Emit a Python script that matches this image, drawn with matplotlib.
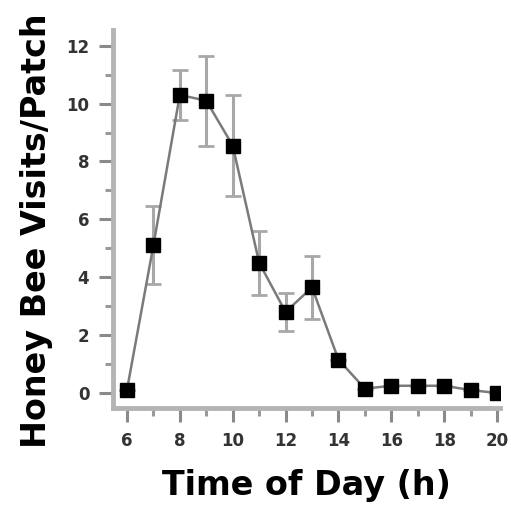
import matplotlib.pyplot as plt
from matplotlib.ticker import MultipleLocator
import numpy as np

# values
hours = [6, 7, 8, 9, 10, 11, 12, 13, 14, 15, 16, 17, 18, 19, 20]
visits = [0.1, 5.1, 10.3, 10.1, 8.55, 4.5, 2.8, 3.65, 1.15, 0.15, 0.25, 0.25, 0.25, 0.1, 0.0]
err = [0.0, 1.35, 0.85, 1.55, 1.75, 1.1, 0.65, 1.1, 0.1, 0.0, 0.0, 0.0, 0.0, 0.0, 0.0]

xticks = [6, 8, 10, 12, 14, 16, 18, 20]
yticks = [0, 2, 4, 6, 8, 10, 12]

plt.rcParams['font.family'] = ['DejaVu Sans']

fig = plt.figure(figsize=(5.11, 5.05), dpi=100)
ax = fig.add_axes([0.221, 0.192, 0.757, 0.749])

ax.errorbar(hours, visits, yerr=[e if e > 0.15 else 0 for e in err],
            fmt='none', ecolor='#a8a8a8', elinewidth=2.2, capsize=6,
            capthick=2, zorder=2)
ax.plot(hours, visits, color='#7a7a7a', lw=1.8, zorder=3)
ax.plot(hours, visits, ls='none', marker='s', ms=9.5, color='black', zorder=4)

ax.set_xlim(5.47, 20.1)
ax.set_ylim(-0.52, 12.55)
ax.set_xticks(xticks)
ax.set_yticks(yticks)
ax.xaxis.set_minor_locator(MultipleLocator(1))
ax.yaxis.set_minor_locator(MultipleLocator(1))

ax.spines[['top', 'right']].set_visible(False)
for s in ['left', 'bottom']:
    ax.spines[s].set_color('#b4b4b4')
    ax.spines[s].set_linewidth(3.5)

ax.tick_params(which='major', direction='out', length=10, width=2.2,
               color='#8a8a8a', labelsize=12, labelcolor='#333333', pad=7)
ax.tick_params(which='minor', direction='out', length=6, width=2.2,
               color='#9a9a9a')
for lab in ax.get_xticklabels() + ax.get_yticklabels():
    lab.set_fontweight('bold')

ax.set_xlabel('Time of Day (h)', fontsize=24, fontweight='bold', labelpad=14)
ax.set_ylabel('Honey Bee Visits/Patch', fontsize=24, fontweight='bold')
ax.yaxis.set_label_coords(-0.155, 0.47)

fig.savefig('out.png', dpi=100)
